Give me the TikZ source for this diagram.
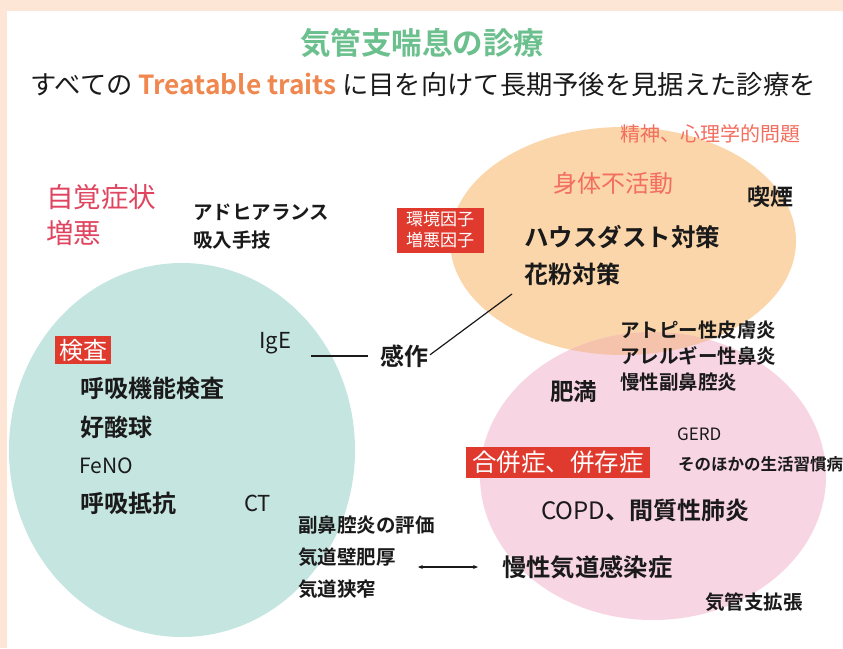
\documentclass[tikz,border=0pt]{standalone}
\usepackage{fontspec}
\usetikzlibrary{arrows.meta}
\newfontfamily\jp{Noto Sans CJK JP}[BoldFont={Noto Sans CJK JP Bold}]
\definecolor{peach}{HTML}{FDE6D6}
\definecolor{titlegreen}{HTML}{6CC08E}
\definecolor{ttorange}{HTML}{F0874F}
\definecolor{symred}{HTML}{E0445E}
\definecolor{boxred}{HTML}{E03A2E}
\definecolor{salmon}{HTML}{F36E5E}
\definecolor{teal}{HTML}{C4E5E0}
\definecolor{orangeell}{HTML}{FBD6AB}
\definecolor{pinkell}{HTML}{F7D5E2}
\definecolor{overlap}{HTML}{F5C3AC}
\definecolor{ink}{HTML}{1A1A1A}
\tikzset{
  lbl/.style={inner sep=0pt, text=ink, font=\jp\bfseries\fontsize{#1}{#1}\selectfont},
  lbl/.default=24,
  llbl/.style={lbl=#1, anchor=west},
  llbl/.default=24,
  latin/.style={inner sep=0pt, anchor=west, text=ink, font=\jp\fontsize{#1}{#1}\selectfont},
  redbox/.style={fill=boxred, text=white, inner xsep=4pt, inner ysep=2pt, font=\jp\fontsize{#1}{#1}\selectfont},
  conn/.style={draw=ink, line width=1.2pt},
}
\begin{document}
\begin{tikzpicture}[x=1pt,y=-1pt]
\useasboundingbox (0,0) rectangle (843,648);
\fill[peach] (0,0) rectangle (843,648);
\fill[white] (7,11) rectangle (843,648);
% ellipses
\fill[teal] (182,450) ellipse [x radius=173, y radius=187];
\fill[orangeell] (623,241) ellipse [x radius=173, y radius=114];
\fill[pinkell] (653,476) ellipse [x radius=173, y radius=144];
\begin{scope}
  \clip (623,241) ellipse [x radius=173, y radius=114];
  \fill[overlap] (653,476) ellipse [x radius=173, y radius=144];
\end{scope}
% title
\node[inner sep=0pt, text=titlegreen, font=\jp\bfseries\fontsize{30.5}{30.5}\selectfont] (title) at (422,43) {気管支喘息の診療};
\node[inner sep=0pt, text=ink, font=\jp\fontsize{26.3}{26.3}\selectfont] (subtitle) at (423,85) {すべての {\bfseries\color{ttorange}Treatable traits} に目を向けて長期予後を見据えた診療を};
% upper left
\node[inner sep=0pt, anchor=west, text=symred, align=left, font=\jp\fontsize{27.5}{36}\selectfont] (sym) at (46,215) {自覚症状\\増悪};
\node[llbl=19.5] (adh) at (193,212) {アドヒアランス};
\node[llbl=19.5] (inh) at (193,240) {吸入手技};
% env box
\node[redbox=17, align=center, font=\jp\fontsize{17}{21}\selectfont, minimum width=87pt, minimum height=45pt] (env) at (440,230) {環境因子\\増悪因子};
% orange ellipse texts
\node[inner sep=0pt, anchor=west, text=salmon, font=\jp\fontsize{20}{20}\selectfont] (psy) at (620,134) {精神、心理学的問題};
\node[inner sep=0pt, anchor=west, text=salmon, font=\jp\fontsize{24}{24}\selectfont] (inact) at (553,183) {身体不活動};
\node[llbl=23] (smoke) at (747,197) {喫煙};
\node[llbl=24.5] (dust) at (524,237) {ハウスダスト対策};
\node[llbl=24] (pollen) at (524,274) {花粉対策};
% teal circle texts
\node[redbox=24, inner xsep=4pt, inner ysep=3pt] (exam) at (83,350) {検査};
\node[latin=22] (ige) at (259,343) {IgE};
\node[llbl=24] (kansaku) at (380,356) {感作};
\node[llbl=24] (pft) at (80,388) {呼吸機能検査};
\node[llbl=24] (eos) at (80,427) {好酸球};
\node[latin=21] (feno) at (79,466) {FeNO};
\node[llbl=24] (resist) at (80,503) {呼吸抵抗};
\node[latin=22] (ct) at (244,503) {CT};
\node[llbl=19.5] (sinus) at (298,525) {副鼻腔炎の評価};
\node[llbl=19.5] (wall) at (298,557) {気道壁肥厚};
\node[llbl=19.5] (narrow) at (298,589) {気道狭窄};
% pink ellipse texts
\node[llbl=19.5] (atopic) at (620,330) {アトピー性皮膚炎};
\node[llbl=19.5] (rhin) at (620,356) {アレルギー性鼻炎};
\node[llbl=19.5] (crs) at (620,382) {慢性副鼻腔炎};
\node[llbl=23.5] (obes) at (550,392) {肥満};
\node[latin=17] (gerd) at (677,434) {GERD};
\node[llbl=16.5] (life) at (678,464) {そのほかの生活習慣病};
\node[redbox=24.5, inner xsep=6pt, minimum height=31pt] (comorb) at (558,462) {合併症、併存症};
\node[llbl=24] (copd) at (541,510) {{\mdseries COPD}、間質性肺炎};
\node[llbl=24.3] (infect) at (502,567) {慢性気道感染症};
\node[llbl=19.5] (bronch) at (705,602) {気管支拡張};
% connectors
\coordinate (diagend) at (512,294);
\draw[conn, shorten <=20pt, shorten >=12pt] (ige.east |- kansaku.west) -- (kansaku.west);
\draw[conn, shorten <=2pt] (kansaku.east) -- (diagend);
\draw[conn, line width=1.4pt, {Stealth[length=5pt,width=4pt]}-{Stealth[length=5pt,width=4pt]}, shorten <=22pt, shorten >=24pt] (wall.east |- infect.west) -- (infect.west);
\end{tikzpicture}
\end{document}
